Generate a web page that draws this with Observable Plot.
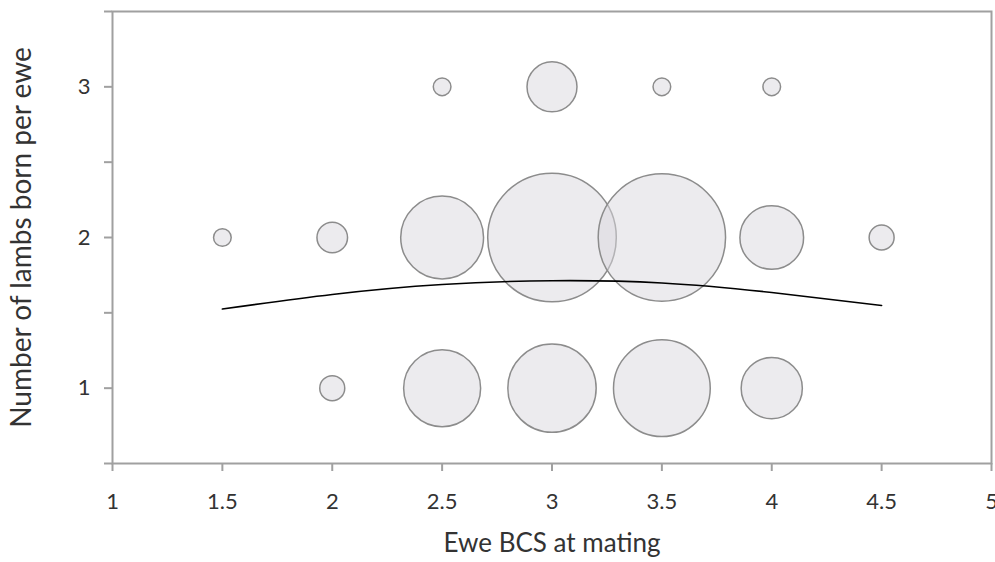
<!DOCTYPE html>
<html>
<head>
<meta charset="utf-8">
<script src="https://cdn.jsdelivr.net/npm/d3@7"></script>
<script src="https://cdn.jsdelivr.net/npm/@observablehq/plot@0.6"></script>
<style>
  html, body { margin: 0; padding: 0; background: #fff; }
  #chart svg { display: block; }
</style>
</head>
<body>
<div id="chart"></div>
<script>
// Bubble data: ewe BCS at mating, lambs born per ewe, number of ewes (bubble size)
const bcs    = [2.5, 3, 3.5, 4,   1.5, 2, 2.5, 3, 3.5, 4, 4.5,   2, 2.5, 3, 3.5, 4];
const lambs  = [3, 3, 3, 3,       2, 2, 2, 2, 2, 2, 2,           1, 1, 1, 1, 1];
const counts = [1, 8, 1, 1,       1, 3, 22, 53, 52, 13, 2,       2, 19, 25, 30, 12];

// Fitted trend line
const trendX = [1.5, 2, 2.5, 3, 3.5, 4, 4.5];
const trendY = [1.525, 1.622, 1.688, 1.713, 1.698, 1.635, 1.549];

const xTicks = [1, 1.5, 2, 2.5, 3, 3.5, 4, 4.5, 5];
const yTicks = [0.5, 1, 1.5, 2, 2.5, 3, 3.5];

const bubbles = bcs.map((x, i) => ({x, y: lambs[i], n: counts[i]}));
const trend = trendX.map((x, i) => ({x, y: trendY[i]}));

const axisColor = "#a0a0a0";
const textColor = "#333";
const font = "Lato, 'Open Sans', sans-serif";

const chart = Plot.plot({
  width: 995,
  height: 562,
  marginLeft: 112,
  marginRight: 4,
  marginTop: 11,
  marginBottom: 99,
  style: {fontFamily: font, fontSize: "22px", color: textColor, background: "#fff"},
  x: {domain: [1, 5]},
  y: {domain: [0.5, 3.5]},
  r: {type: "sqrt", domain: [0, 53], range: [0, 64.3]},
  marks: [
    Plot.frame({stroke: axisColor, strokeWidth: 2}),
    Plot.axisX({ticks: xTicks, tickSize: 8, tickPadding: 22, stroke: axisColor, strokeWidth: 2,
      tickFormat: d => String(d), fill: textColor, label: null}),
    Plot.axisY({ticks: yTicks, tickSize: 8, tickPadding: 14, stroke: axisColor, strokeWidth: 2,
      tickFormat: d => Number.isInteger(d) ? String(d) : "", fill: textColor, label: null}),
    Plot.dot(bubbles, {x: "x", y: "y", r: "n", fill: "#d9d8dd", fillOpacity: 0.5,
      stroke: "#8c8c8c", strokeWidth: 1.5}),
    Plot.line(trend, {x: "x", y: "y", curve: "natural", stroke: "#000", strokeWidth: 1.6}),
    Plot.text(["Ewe BCS at mating"], {frameAnchor: "bottom", dy: 88, fontSize: 26, fill: textColor}),
    Plot.text(["Number of lambs born per ewe"], {frameAnchor: "left", textAnchor: "middle", dx: -90, rotate: -90, fontSize: 28, fill: textColor})
  ]
});
document.getElementById("chart").appendChild(chart);
</script>
</body>
</html>
